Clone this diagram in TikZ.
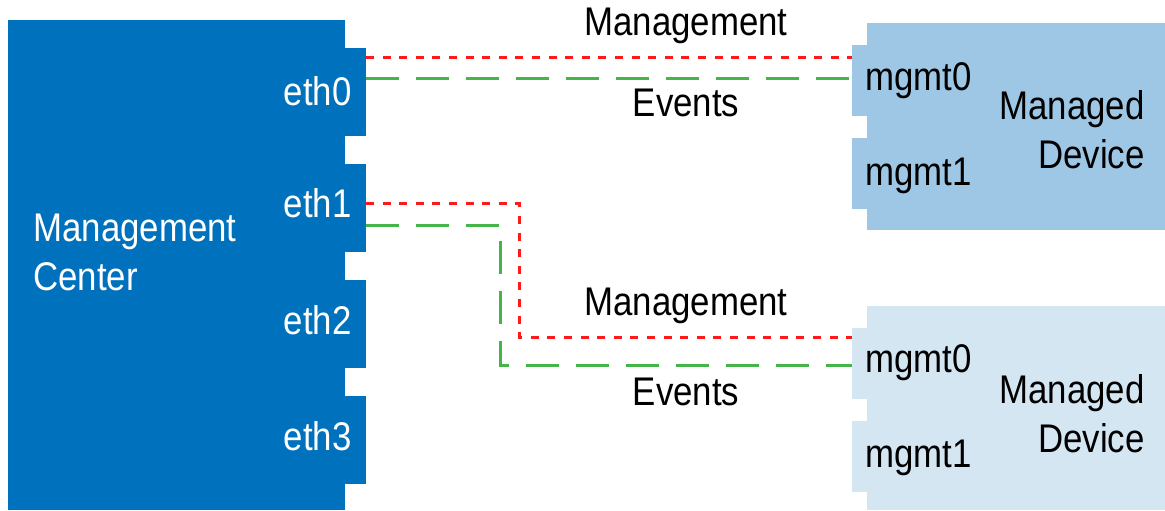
\documentclass[tikz,border=0pt]{standalone}
\usepackage{fontspec}
\setmainfont{Liberation Sans}[FakeStretch=0.87]
\usepackage{xcolor}
\usepackage{tikz}

\definecolor{mcblue}{HTML}{0071BC}
\definecolor{devblue}{HTML}{9DC7E5}
\definecolor{devpale}{HTML}{D5E6F3}
\definecolor{mgmtred}{HTML}{FF1A1A}
\definecolor{evgreen}{HTML}{45B549}

\tikzset{
    lbl/.style={font=\fontsize{20}{24.2}\selectfont, inner sep=0pt},
    mcport/.style={fill=mcblue, inner sep=0pt, minimum width=11pt, minimum height=44pt},
    devport/.style={inner sep=0pt, minimum width=8.5pt, minimum height=35.5pt},
    mgmtlink/.style={mgmtred, line width=1.5pt, dash pattern=on 4pt off 4.3pt},
    evlink/.style={evgreen, line width=1.5pt, dash pattern=on 16.5pt off 8.5pt}
}

\begin{document}
\begin{tikzpicture}[x=0.5pt, y=-0.5pt]
            \useasboundingbox (0,0) rectangle (1165,510);

            % Boxes
            \fill[mcblue] (8,20) rectangle (345,510);
            \fill[devblue] (867,23) rectangle (1165,230);
            \fill[devpale] (867,306) rectangle (1165,510);

            % Ports
            \node[mcport] (eth0) at (354.5,92) {};
            \node[mcport] (eth1) at (354.5,208) {};
            \node[mcport] (eth2) at (354.5,323.5) {};
            \node[mcport] (eth3) at (354.5,439.5) {};
            \node[devport, fill=devblue] (dA0) at (860.5,80.5) {};
            \node[devport, fill=devblue] (dA1) at (860.5,173) {};
            \node[devport, fill=devpale] (dB0) at (860.5,363) {};
            \node[devport, fill=devpale] (dB1) at (860.5,456) {};

            % Links
            \coordinate (ra) at (0,57);
            \coordinate (ga) at (0,78);
            \coordinate (rb) at (519,203);
            \coordinate (gb) at (500,225);
            \coordinate (rc) at (0,337);
            \coordinate (gc) at (0,365);
            \draw[mgmtlink] (eth0.east |- ra) -- (dA0.west |- ra);
            \draw[evlink] (eth0.east |- ga) -- (dA0.west |- ga);
            \draw[mgmtlink] (eth1.east |- rb) -- (rb) |- (dB0.west |- rc);
            \draw[evlink] (eth1.east |- gb) -- (gb) |- (dB0.west |- gc);

            % Labels
            \node[lbl, anchor=base] (mgA) at (686,35) {Management};
            \node[lbl, anchor=base] (evA) at (686,116) {Events};
            \node[lbl, anchor=base] (mgB) at (686,315) {Management};
            \node[lbl, anchor=base] (evB) at (686,405) {Events};
            \node[lbl, white, anchor=base west, align=left] (mclbl) at (33,290) {Management\\Center};
            \node[lbl, white, anchor=base east] (l0) at (352,105) {eth0};
            \node[lbl, white, anchor=base east] (l1) at (352,217) {eth1};
            \node[lbl, white, anchor=base east] (l2) at (352,334) {eth2};
            \node[lbl, white, anchor=base east] (l3) at (352,450) {eth3};
            \node[lbl, anchor=base west] (mA0) at (865,90) {mgmt0};
            \node[lbl, anchor=base west] (mA1) at (865,185) {mgmt1};
            \node[lbl, anchor=base west] (mB0) at (865,372) {mgmt0};
            \node[lbl, anchor=base west] (mB1) at (865,467) {mgmt1};
            \node[lbl, anchor=base east, align=right] (devA) at (1145,168) {Managed\\Device};
            \node[lbl, anchor=base east, align=right] (devB) at (1145,452) {Managed\\Device};

        \end{tikzpicture}
\end{document}
